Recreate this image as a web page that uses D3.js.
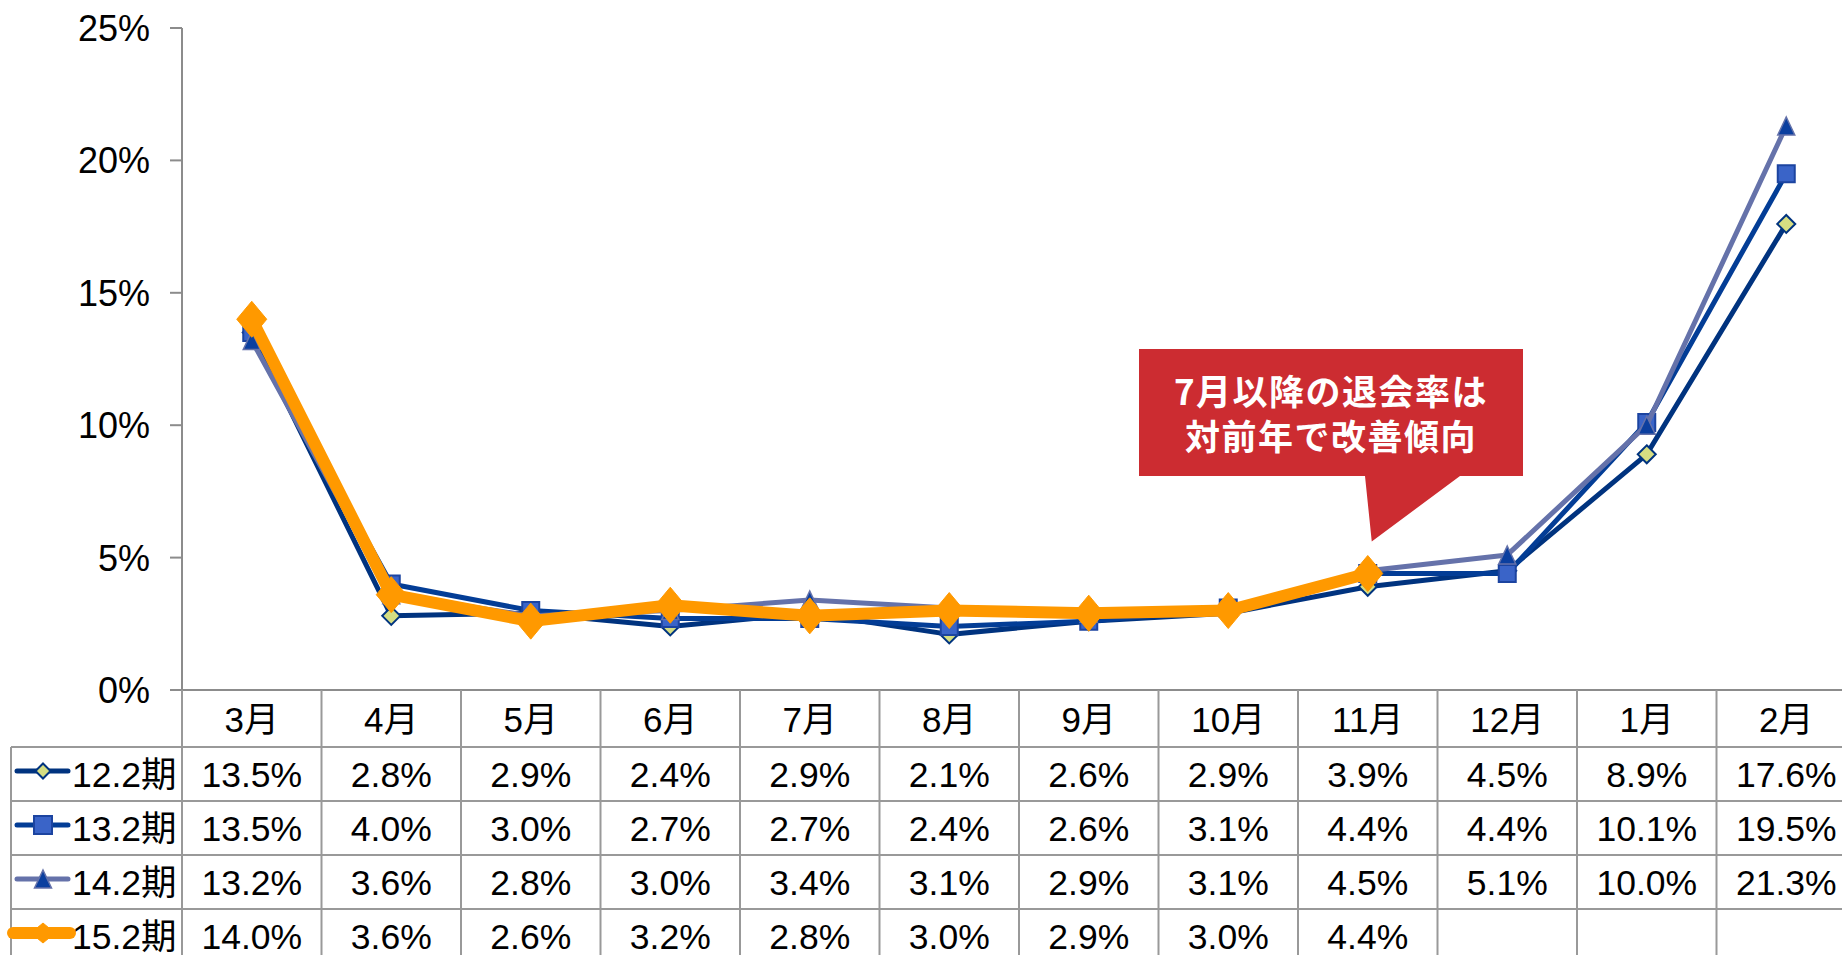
<!DOCTYPE html>
<html>
<head>
<meta charset="utf-8">
<script src="https://cdn.jsdelivr.net/npm/d3@7"></script>
<style>
  html, body { margin: 0; padding: 0; background: #fff; }
  svg { display: block; }
  text { font-family: "Liberation Sans", Arial, "Noto Sans CJK JP", sans-serif; fill: #000; }
</style>
</head>
<body>
<div id="chart"></div>
<script>
const months = ['3月', '4月', '5月', '6月', '7月', '8月', '9月', '10月', '11月', '12月', '1月', '2月'];
const seriesNames = ['12.2期', '13.2期', '14.2期', '15.2期'];
const s122 = [13.5, 2.8, 2.9, 2.4, 2.9, 2.1, 2.6, 2.9, 3.9, 4.5, 8.9, 17.6];
const s132 = [13.5, 4.0, 3.0, 2.7, 2.7, 2.4, 2.6, 3.1, 4.4, 4.4, 10.1, 19.5];
const s142 = [13.2, 3.6, 2.8, 3.0, 3.4, 3.1, 2.9, 3.1, 4.5, 5.1, 10.0, 21.3];
const s152 = [14.0, 3.6, 2.6, 3.2, 2.8, 3.0, 2.9, 3.0, 4.4];
const yTicks = [0, 5, 10, 15, 20, 25];
const noteLines = ['7月以降の退会率は', '対前年で改善傾向'];

const W = 1842, H = 955;
const plotLeft = 182, plotTop = 28, plotBottom = 690;
const colW = 139.5, rowH = 54, headH = 57;
const legendLeft = 11;

const svg = d3.select('#chart').append('svg')
    .attr('width', W)
    .attr('height', H);

const x = d3.scaleBand().domain(months).range([plotLeft, plotLeft + colW * months.length]).padding(0);
const y = d3.scaleLinear().domain([0, 25]).range([plotBottom, plotTop]);
const cx = m => x(m) + x.bandwidth() / 2;

// marker shapes centred on their box
function diamond(w, h) {
    return `M0,${-h}L${w},0L0,${h}L${-w},0Z`;
}
function square(s) {
    return `M${-s},${-s}H${s}V${s}H${-s}Z`;
}
function triangle(w, h) {
    return `M0,${-h}L${w},${h}L${-w},${h}Z`;
}

const series = [
    { name: seriesNames[0], values: s122, line: '#00337f', lw: 5, fill: '#d6de82', stroke: '#00337f', sw: 2,
      shape: diamond(9, 9), legendShape: diamond(7.5, 7.5) },
    { name: seriesNames[1], values: s132, line: '#033d96', lw: 5, fill: '#3a64c8', stroke: '#1c44a0', sw: 2,
      shape: square(8.5), legendShape: square(9) },
    { name: seriesNames[2], values: s142, line: '#6572aa', lw: 5, fill: '#0b3f9f', stroke: '#6572aa', sw: 1.5,
      shape: triangle(8.5, 9), legendShape: triangle(8.5, 9) },
    { name: seriesNames[3], values: s152, line: '#ff9900', lw: 12, fill: '#ff9900', stroke: '#ff9900', sw: 1,
      shape: diamond(15, 18), legendShape: diamond(12, 10) }
];

// y axis
const yAxis = svg.append('g');
yAxis.append('line')
    .attr('x1', plotLeft).attr('x2', plotLeft)
    .attr('y1', plotTop).attr('y2', plotBottom)
    .attr('stroke', '#8c8c8c').attr('stroke-width', 2);
yTicks.forEach(t => {
    yAxis.append('line')
        .attr('x1', plotLeft - 12).attr('x2', plotLeft)
        .attr('y1', y(t)).attr('y2', y(t))
        .attr('stroke', '#8c8c8c').attr('stroke-width', 2);
    yAxis.append('text')
        .attr('x', 150).attr('y', y(t))
        .attr('dy', '0.36em')
        .attr('text-anchor', 'end')
        .style('font-size', '36px')
        .text(t + '%');
});

// data table grid
const tableRight = plotLeft + colW * months.length;
const grid = svg.append('g').attr('stroke', '#999').attr('stroke-width', 2);
grid.append('line')
    .attr('x1', plotLeft - 12).attr('x2', tableRight)
    .attr('y1', plotBottom).attr('y2', plotBottom)
    .attr('stroke', '#8c8c8c');
for (let r = 0; r <= seriesNames.length; r++) {
    const yy = plotBottom + headH + r * rowH;
    grid.append('line')
        .attr('x1', legendLeft).attr('x2', tableRight)
        .attr('y1', yy).attr('y2', yy);
}
grid.append('line')
    .attr('x1', legendLeft).attr('x2', legendLeft)
    .attr('y1', plotBottom + headH).attr('y2', H);
months.concat(['end']).forEach((m, i) => {
    const xx = plotLeft + i * colW;
    grid.append('line')
        .attr('x1', xx).attr('x2', xx)
        .attr('y1', plotBottom).attr('y2', H);
});

// header labels
svg.append('g').selectAll('text')
    .data(months)
    .enter().append('text')
    .attr('x', d => cx(d))
    .attr('y', plotBottom + 42)
    .attr('text-anchor', 'middle')
    .style('font-size', '35px')
    .text(d => d);

// rows: legend key + values
series.forEach((s, i) => {
    const top = plotBottom + headH + i * rowH;
    const midY = top + 24;
    const g = svg.append('g');
    g.append('line')
        .attr('x1', s.lw > 6 ? 13 : 17).attr('x2', s.lw > 6 ? 70 : 68)
        .attr('y1', midY).attr('y2', midY)
        .attr('stroke', s.line)
        .attr('stroke-width', s.lw)
        .attr('stroke-linecap', 'round');
    g.append('path')
        .attr('d', s.legendShape)
        .attr('transform', `translate(43,${midY})`)
        .attr('fill', s.fill)
        .attr('stroke', s.stroke)
        .attr('stroke-width', s.sw);
    g.append('text')
        .attr('x', 72).attr('y', top + 40)
        .style('font-size', '35.5px')
        .text(s.name);
    g.selectAll('.val')
        .data(s.values)
        .enter().append('text')
        .attr('class', 'val')
        .attr('x', (d, j) => cx(months[j]))
        .attr('y', top + 40)
        .attr('text-anchor', 'middle')
        .style('font-size', '35.5px')
        .text(d => d.toFixed(1) + '%');
});

// lines and markers
const line = d3.line()
    .x((d, j) => cx(months[j]))
    .y(d => y(d));

series.forEach(s => {
    const g = svg.append('g').attr('class', 'serie');
    g.append('path')
        .attr('d', line(s.values))
        .attr('fill', 'none')
        .attr('stroke', s.line)
        .attr('stroke-width', s.lw)
        .attr('stroke-linejoin', 'round');
    g.selectAll('path.mk')
        .data(s.values)
        .enter().append('path')
        .attr('class', 'mk')
        .attr('d', s.shape)
        .attr('transform', (d, j) => `translate(${cx(months[j])},${y(d)})`)
        .attr('fill', s.fill)
        .attr('stroke', s.stroke)
        .attr('stroke-width', s.sw);
});

// callout
const tipX = cx('11月') + 4, tipY = y(s152[8]) - 32;
const note = svg.append('g');
note.append('path')
    .attr('d', `M1139,349H1523V476H1460L${tipX},${tipY}L1365,476H1139Z`)
    .attr('fill', '#cc2c31');
note.selectAll('text')
    .data(noteLines)
    .enter().append('text')
    .attr('x', 1331)
    .attr('y', (d, i) => 392 + i * 45)
    .attr('dy', '0.36em')
    .attr('text-anchor', 'middle')
    .style('font-family', '"Noto Sans CJK JP", sans-serif')
    .style('font-weight', 'bold')
    .style('font-size', '35px')
    .style('letter-spacing', '1.5px')
    .style('fill', '#fff')
    .text(d => d);
</script>
</body>
</html>
